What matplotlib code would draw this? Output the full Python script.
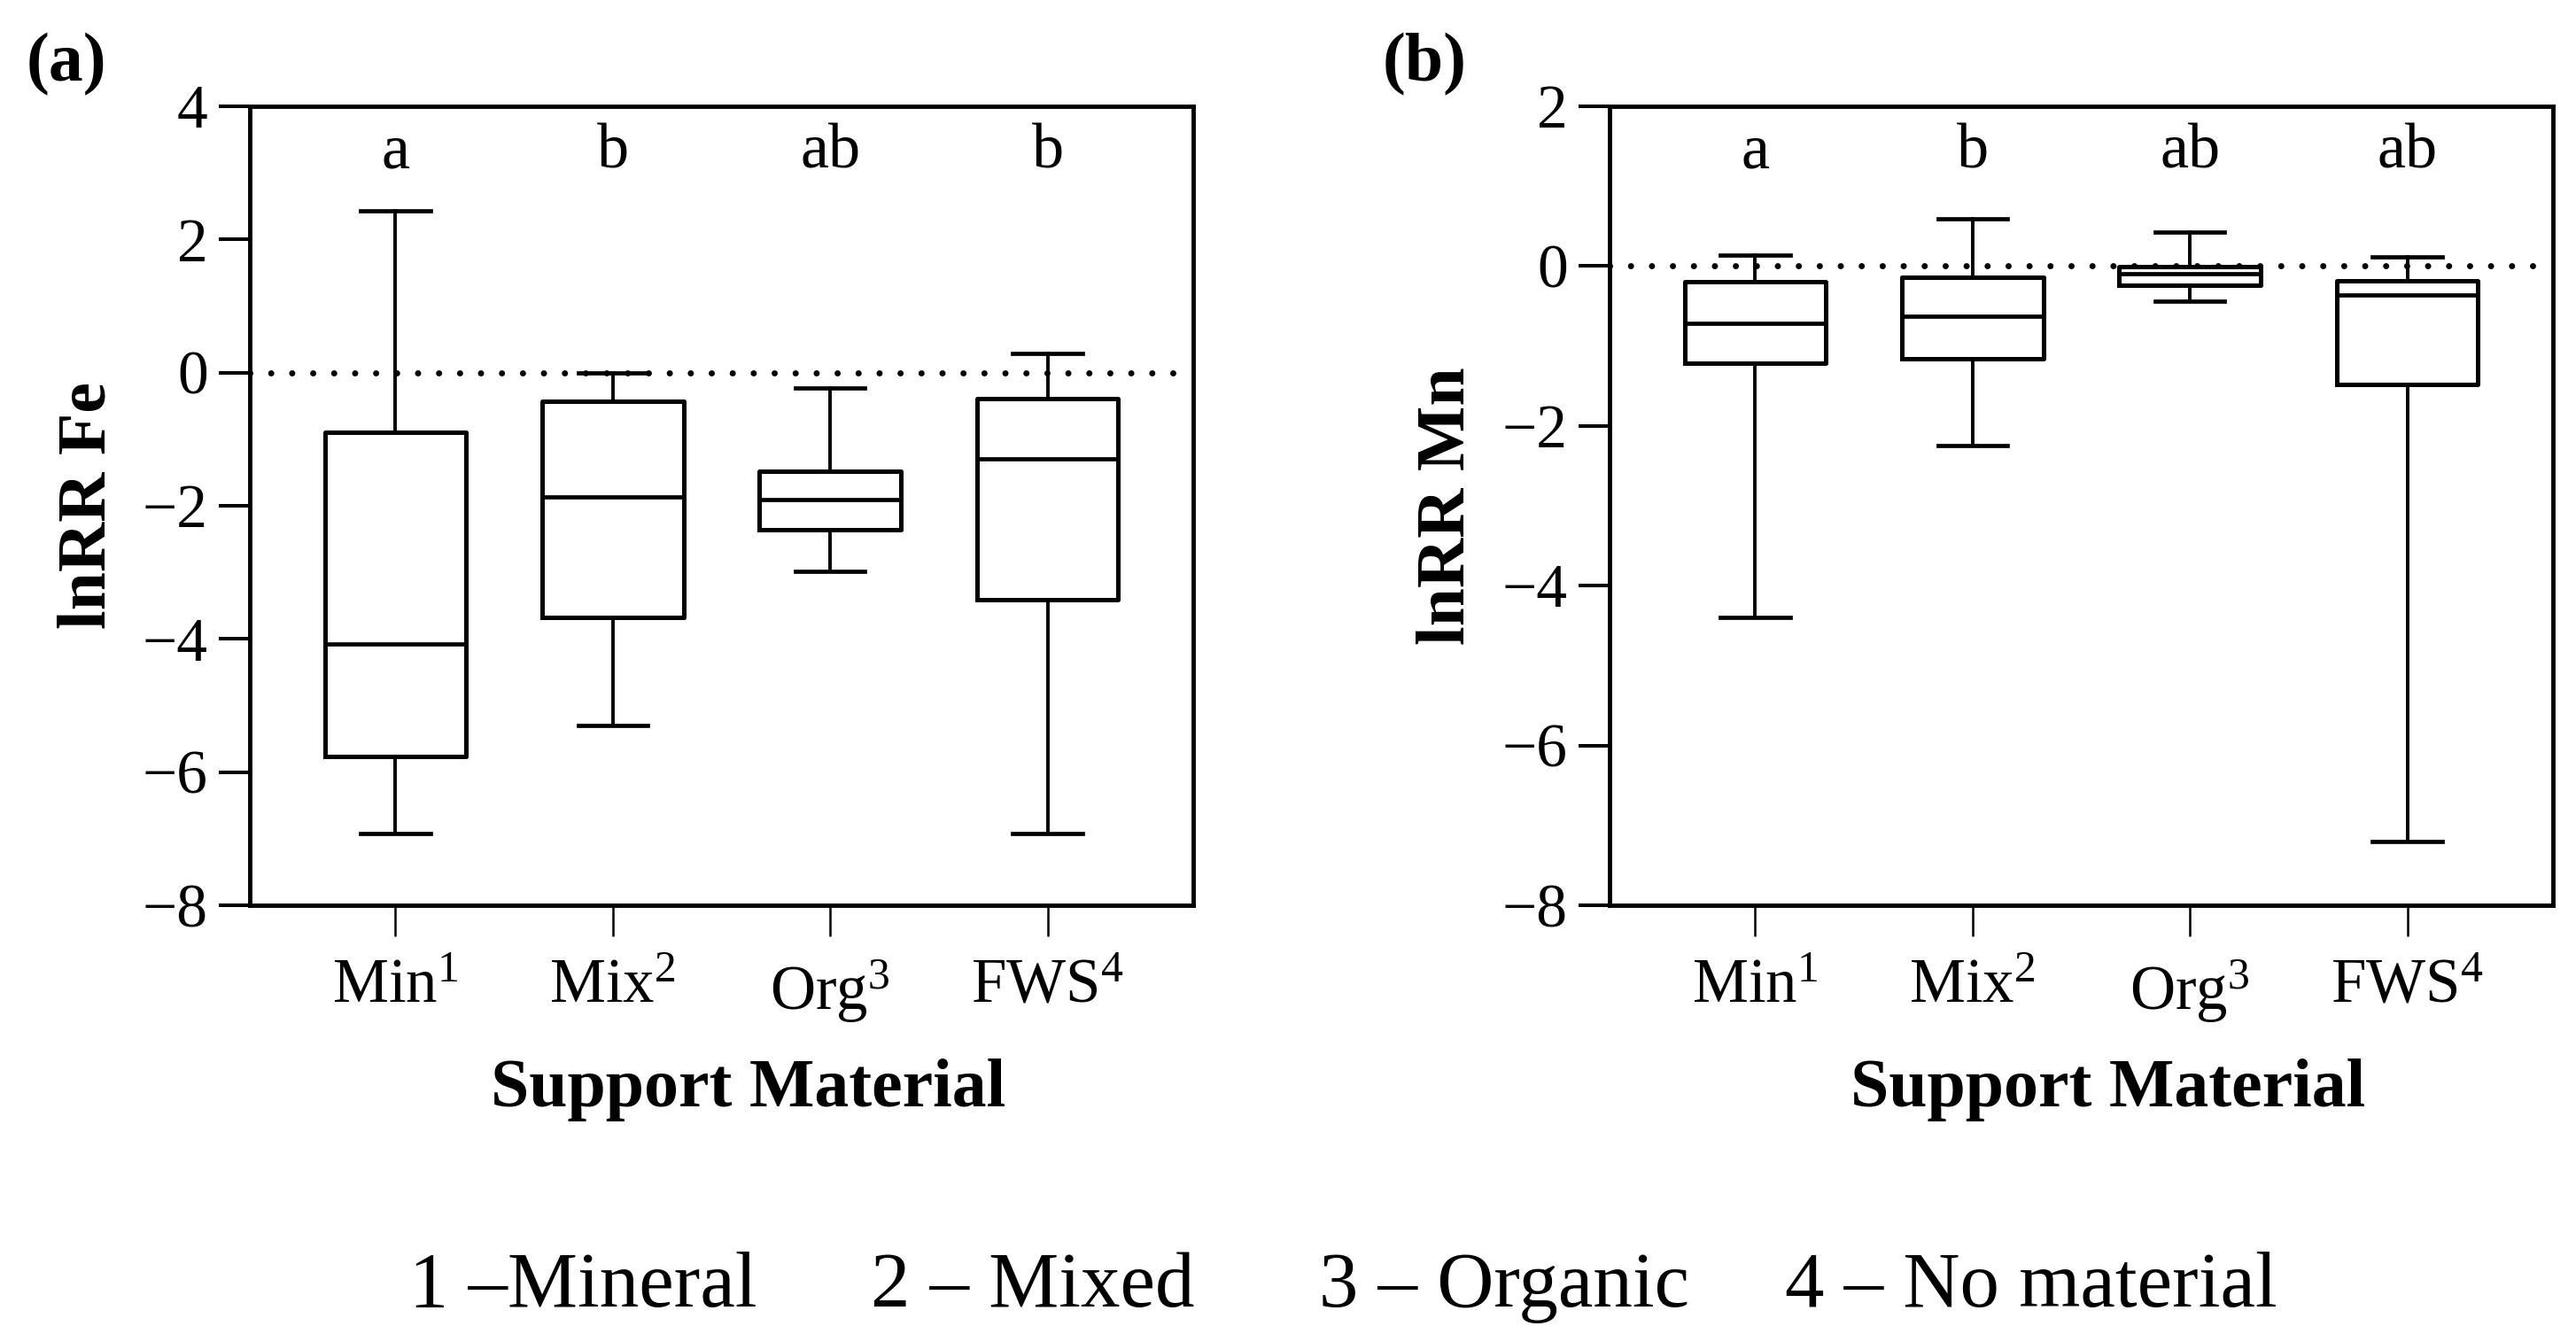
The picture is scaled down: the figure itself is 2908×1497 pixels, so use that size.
import matplotlib
matplotlib.use("Agg")
import matplotlib.pyplot as plt
import matplotlib.transforms as mtransforms

plt.rcParams['font.family'] = ['Liberation Serif', 'DejaVu Serif']
plt.rcParams['mathtext.fontset'] = 'custom'
plt.rcParams['mathtext.rm'] = 'Liberation Serif'
plt.rcParams['mathtext.it'] = 'Liberation Serif:italic'

# Categories and tick labels
categories = ["Min", "Mix", "Org", "FWS"]
tick_labels = [r"Min$^{1}$", r"Mix$^{2}$", r"Org$^{3}$", r"FWS$^{4}$"]

# Panel (a): lnRR Fe box stats
fe_whislo = [-6.92, -5.30, -2.99, -6.92]
fe_q1 = [-5.77, -3.67, -2.36, -3.41]
fe_med = [-4.07, -1.87, -1.91, -1.29]
fe_q3 = [-0.89, -0.43, -1.48, -0.39]
fe_whishi = [2.43, 0.00, -0.23, 0.29]
fe_letters = ["a", "b", "ab", "b"]

# Panel (b): lnRR Mn box stats
mn_whislo = [-4.40, -2.25, -0.44, -7.20]
mn_q1 = [-1.21, -1.16, -0.24, -1.48]
mn_med = [-0.72, -0.63, -0.09, -0.36]
mn_q3 = [-0.19, -0.14, -0.01, -0.18]
mn_whishi = [0.14, 0.59, 0.43, 0.11]
mn_letters = ["a", "b", "ab", "ab"]

legend_items = ["1 \u2013Mineral", "2 \u2013 Mixed", "3 \u2013 Organic", "4 \u2013 No material"]

W, H = 2908, 1497
fig = plt.figure(figsize=(W / 100, H / 100), dpi=100)


def make_stats(lo, q1, med, q3, hi):
    return [dict(whislo=a, q1=b, med=c, q3=d, whishi=e, fliers=[])
            for a, b, c, d, e in zip(lo, q1, med, q3, hi)]


def draw_panel(ax, stats, letters, ylim, ylabel, tag, tag_x):
    pos = list(range(1, len(stats) + 1))
    ax.bxp(stats, positions=pos, widths=0.65, capwidths=0.32, showfliers=False,
           boxprops=dict(color="black", linewidth=3.6),
           whiskerprops=dict(color="black", linewidth=2.8),
           capprops=dict(color="black", linewidth=3.4),
           medianprops=dict(color="black", linewidth=3.4))
    ax.axhline(0, color="black", linewidth=5, linestyle=(0, (0.01, 3.4)),
               dash_capstyle="round", zorder=0)
    ax.set_xlim(0.33, 4.67)
    ax.set_ylim(*ylim)
    ax.set_yticks(range(ylim[0], ylim[1] + 1, 2))
    ax.set_yticklabels([str(v).replace("-", "\u2212") for v in range(ylim[0], ylim[1] + 1, 2)])
    ax.set_xticks(pos)
    ax.set_xticklabels(tick_labels)
    for s in ax.spines.values():
        s.set_linewidth(3.5)
    ax.tick_params(axis="y", length=25, width=2.9, pad=9, labelsize=50)
    ax.tick_params(axis="x", length=25, width=1.8, pad=18, labelsize=51)
    ax.set_ylabel(ylabel, fontsize=56, fontweight="bold", va="center")
    ax.yaxis.set_label_coords(-0.171, 0.5)
    ax.set_xlabel("Support Material", fontsize=56, fontweight="bold", va="baseline")
    ax.xaxis.set_label_coords(0.528, -0.252)
    trans = mtransforms.blended_transform_factory(ax.transData, ax.transAxes)
    for p, t in zip(pos, letters):
        ax.text(p, 0.9235, t, transform=trans, ha="center", va="baseline", fontsize=52)
    fig.text(tag_x, 0.9753, tag, fontsize=56, fontweight="bold", ha="left", va="top")


ax1 = fig.add_axes([282 / W, 1 - 1022 / H, 1065 / W, 902 / H])
draw_panel(ax1, make_stats(fe_whislo, fe_q1, fe_med, fe_q3, fe_whishi), fe_letters,
           (-8, 4), "lnRR Fe", "(a)", 30 / W)

ax2 = fig.add_axes([1817 / W, 1 - 1022 / H, 1065 / W, 902 / H])
draw_panel(ax2, make_stats(mn_whislo, mn_q1, mn_med, mn_q3, mn_whishi), mn_letters,
           (-8, 2), "lnRR Mn", "(b)", 1561 / W)

# footnote legend
legend_x = [462, 983, 1489, 2015]
for x, t in zip(legend_x, legend_items):
    fig.text(x / W, 1 - 1475 / H, t, fontsize=64, ha="left", va="baseline")

fig.savefig("out.png", dpi=100, facecolor="white")
